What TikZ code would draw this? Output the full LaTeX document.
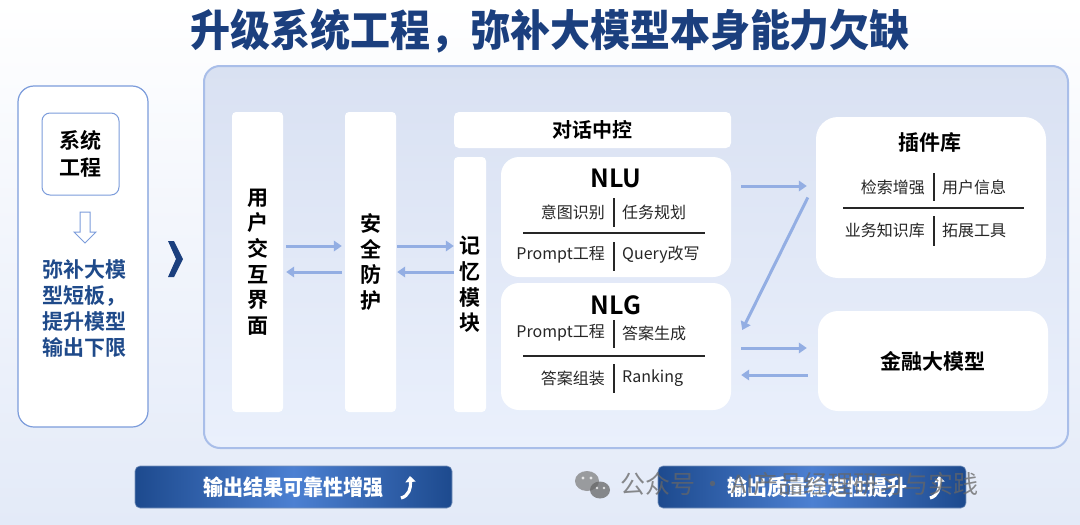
\documentclass[tikz,border=0pt]{standalone}
\usepackage{fontspec}
\setmainfont{Noto Sans CJK SC}[BoldFont={Noto Sans CJK SC Bold}]
\newfontfamily\heavy{Noto Sans CJK SC Black}
\usetikzlibrary{arrows.meta}
\definecolor{titleblue}{HTML}{1B3F7E}
\definecolor{lefttext}{HTML}{1F4A8A}
\definecolor{leftborder}{HTML}{7C9CDB}
\definecolor{panelborder}{HTML}{A9BEE9}
\definecolor{paneltop}{HTML}{D9E1F2}
\definecolor{panelbot}{HTML}{EAF0FC}
\definecolor{arrowblue}{HTML}{93AEE3}
\definecolor{bgbot}{HTML}{E3EAF8}
\definecolor{btndark}{HTML}{1D4A8E}
\definecolor{btnlight}{HTML}{4C80D2}
\newcommand\fsz[2]{\fontsize{#1}{#2}\selectfont}
\begin{document}
\begin{tikzpicture}[x=1pt,y=-1pt,
  col/.style={fill=white, rounded corners=4pt, inner sep=0pt, align=center, font=\bfseries\fsz{21}{25.6}},
  card/.style={fill=white, rounded corners=18pt, inner sep=0pt},
  arr/.style={draw=arrowblue, line width=3pt, -{Triangle[length=8pt,width=10.5pt]}},
  cellL/.style={font=\fsz{16}{18}, text=black!85, inner sep=0pt, anchor=east},
  cellR/.style={font=\fsz{16}{18}, text=black!85, inner sep=0pt, anchor=west},
  sep/.style={draw=black!85, line width=1.4pt},
  btn/.style={left color=btndark, right color=btndark, middle color=btnlight, rounded corners=5pt, draw=btndark!60, line width=0.6pt, minimum width=317pt, minimum height=42pt, inner sep=0pt},
  btntext/.style={text=white, font=\heavy\fsz{20}{22}, inner sep=0pt, yscale=1.08},
  icon/.style={white, line width=3.2pt, -{Triangle[length=6pt,width=10pt]}}
]
\useasboundingbox (0,0) rectangle (1080,525);
\shade[top color=white, bottom color=bgbot] (0,0) rectangle (1080,525);

% title
\node[font=\heavy\fsz{40}{42}, text=titleblue, yscale=1.08] (title) at (550,31) {升级系统工程，弥补大模型本身能力欠缺};

% left panel
\node[draw=leftborder, line width=1.2pt, rounded corners=16pt, fill=white, minimum width=130pt, minimum height=341pt] (left) at (83,256.5) {};
\node[draw=leftborder, line width=1pt, rounded corners=8pt, fill=white, minimum width=77pt, minimum height=82pt, align=center, font=\bfseries\fsz{21}{27}] (sys) at (80.5,154) {系统\\工程};
\draw[leftborder, line width=1pt, fill=white] (80,212) -- (90,212) -- (90,232) -- (96,232) -- (85,243) -- (74,232) -- (80,232) -- cycle;
\node[align=center, text=lefttext, font=\bfseries\fsz{21}{26}] (fill) at (84,309) {弥补大模\\型短板，\\提升模型\\输出下限};

% chevron
\fill[titleblue] (168,241) -- (174,241) -- (183,259) -- (174,277) -- (168,277) -- (176,259) -- cycle;

% main panel
\node[top color=paneltop, bottom color=panelbot, draw=panelborder, line width=2pt, rounded corners=16pt, minimum width=864pt, minimum height=382pt] (main) at (636,257) {};

% columns
\node[col, minimum width=51pt, minimum height=300pt] (user) at (257.5,262) {用\\户\\交\\互\\界\\面};
\node[col, minimum width=51pt, minimum height=300pt] (safe) at (370.5,262) {安\\全\\防\\护};
\node[col, minimum width=32pt, minimum height=255pt] (mem) at (470,284.5) {记\\忆\\模\\块};
\node[fill=white, rounded corners=5pt, minimum width=277pt, minimum height=36pt, font=\bfseries\fsz{20}{22}] (ctrl) at (592.5,130) {对话中控};

% NLU
\node[card, minimum width=230pt, minimum height=120pt] (nlu) at (616,217) {};
\node[font=\bfseries\fsz{25}{27}] (nlut) at (616,178) {NLU};
\node[cellL] (nlu1l) at (605,212) {意图识别};
\node[cellR] (nlu1r) at (622,212) {任务规划};
\node[cellL] (nlu2l) at (605,255) {Prompt工程};
\node[cellR] (nlu2r) at (622,255) {Query改写};
\draw[sep] (614,198) -- (614,227);
\draw[sep] (523,233) -- (705,233);
\draw[sep] (614,242) -- (614,271);

% NLG
\node[card, minimum width=230pt, minimum height=127pt] (nlg) at (616,346.5) {};
\node[font=\bfseries\fsz{25}{27}] (nlgt) at (616,305) {NLG};
\node[cellL] (nlg1l) at (605,333) {Prompt工程};
\node[cellR] (nlg1r) at (622,333) {答案生成};
\node[cellL] (nlg2l) at (605,378) {答案组装};
\node[cellR] (nlg2r) at (622,378) {Ranking};
\draw[sep] (614,320) -- (614,348);
\draw[sep] (523,356) -- (705,356);
\draw[sep] (614,364) -- (614,393);

% plugin library
\node[card, rounded corners=22pt, minimum width=230pt, minimum height=161pt] (plug) at (931,197.5) {};
\node[font=\bfseries\fsz{21}{23}] (plugt) at (930,143) {插件库};
\node[cellL] (pl1l) at (925,187) {检索增强};
\node[cellR] (pl1r) at (942,187) {用户信息};
\node[cellL] (pl2l) at (925,230) {业务知识库};
\node[cellR] (pl2r) at (942,230) {拓展工具};
\draw[sep] (934,173) -- (934,201);
\draw[sep] (843,208) -- (1024,208);
\draw[sep] (934,216) -- (934,246);

% finance model
\node[card, rounded corners=20pt, minimum width=230pt, minimum height=100pt, font=\bfseries\fsz{21}{23}] (fin) at (933,361) {金融大模型};

% arrows
\draw[arr] ([xshift=3pt,yshift=16pt]user.east) -- ([xshift=-3pt,yshift=16pt]safe.west);
\draw[arr] ([xshift=-3pt,yshift=-10pt]safe.west) -- ([xshift=3pt,yshift=-10pt]user.east);
\draw[arr] ([xshift=1pt,yshift=16pt]safe.east) coordinate (s1) -- (s1 -| mem.west);
\draw[arr] ([yshift=-10pt]mem.west |- safe.east) coordinate (s2) -- ([xshift=1pt]s2 -| safe.east);
\draw[arr, shorten <=10pt, shorten >=9pt] ([yshift=31pt]nlu.east) coordinate (a1) -- (a1 -| plug.west);
\draw[arr] ([xshift=-8pt]plug.west) -- ([xshift=11pt,yshift=16.5pt]nlg.east);
\draw[arr, shorten <=10pt, shorten >=11pt] ([yshift=-1.5pt]nlg.east) coordinate (a2) -- (a2 -| fin.west);
\draw[arr, shorten <=10pt, shorten >=10pt] ([yshift=-14pt]fin.west) coordinate (a3) -- (a3 -| nlg.east);

% buttons
\node[btn] (b1) at (293.5,487) {};
\node[btntext] (b1t) at (293,487) {输出结果可靠性增强};
\draw[icon] (401,498) .. controls (409,496) and (411,488) .. (410,476);
\node[btn, minimum width=308pt] (b2) at (812,487) {};
\node[btntext] (b2t) at (817,487) {输出质量稳定性提升};
\draw[icon] (930,498) .. controls (938,496) and (940,488) .. (939,476);

% watermark
\begin{scope}[opacity=0.75]
\fill[gray] (587,481) ellipse (12pt and 10pt);
\fill[gray!80!black] (600,490) ellipse (10pt and 8.5pt);
\fill[white] (583,478) circle (1.6pt) (591,478) circle (1.6pt) (597,488) circle (1.4pt) (604,488) circle (1.4pt);
\node[anchor=west, text=black!60, font=\fsz{25}{27}, inner sep=0pt] (wm) at (620,484) {公众号 · AI产品经理研习与实践};
\end{scope}
\end{tikzpicture}
\end{document}
